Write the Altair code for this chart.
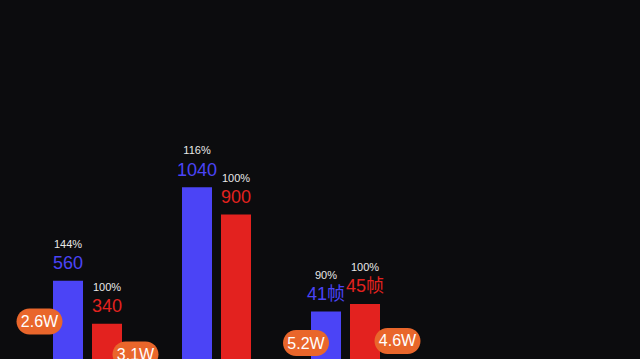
import altair as alt
import pandas as pd

# ---- data ----
groups = ["G1", "G2", "G3"]
series = ["blue", "red"]
blue_values = [560, 1040, 41]
red_values = [340, 900, 45]
blue_labels = ["560", "1040", "41帧"]
red_labels = ["340", "900", "45帧"]
blue_pcts = ["144%", "116%", "90%"]
red_pcts = ["100%", "100%", "100%"]
pill_labels = ["2.6W", "3.1W", "5.2W", "4.6W"]
pill_groups = ["G1", "G1", "G3", "G3"]
pill_series = ["blue", "red", "blue", "red"]

# ---- styles ----
BLUE = "#4B44F6"
RED = "#E3221F"
ORANGE = "#E9662B"
BG = "#0C0C0E"
FONT = "Liberation Sans, Noto Sans CJK SC, sans-serif"
# pixel offsets of each pill relative to (group centre, bar top)
pill_offsets = [(-48, 40.7), (48, 30.8), (-39.5, 31.4), (52, 37)]
PILL = ("M-0.4348,-0.5652L0.4348,-0.5652A0.5652,0.5652,0,0,1,0.4348,0.5652"
        "L-0.4348,0.5652A0.5652,0.5652,0,0,1,-0.4348,-0.5652Z")

rows = []
for i, g in enumerate(groups):
    panel = "fps" if g == "G3" else "main"
    rows.append(dict(group=g, series="blue", value=blue_values[i], label=blue_labels[i], pct=blue_pcts[i], panel=panel))
    rows.append(dict(group=g, series="red", value=red_values[i], label=red_labels[i], pct=red_pcts[i], panel=panel))
df = pd.DataFrame(rows)

x = alt.X("group:N", scale=alt.Scale(domain=groups, paddingInner=0, paddingOuter=0), axis=None)
xo = alt.XOffset("series:N", scale=alt.Scale(domain=series, paddingInner=9 / 39, paddingOuter=30 / 39))
color = alt.Color("series:N", scale=alt.Scale(domain=series, range=[BLUE, RED]), legend=None)


def make_panel(panel, domain):
    d = df[df.panel == panel]
    y = alt.Y("value:Q", scale=alt.Scale(domain=domain, nice=False, zero=True), axis=None)
    base = alt.Chart(d).encode(x=x, xOffset=xo, y=y)
    bars = base.mark_bar().encode(color=color)
    vals = base.mark_text(baseline="alphabetic", dy=-11.5, fontSize=18, font=FONT).encode(
        text="label:N", color=color)
    pcts = base.mark_text(baseline="alphabetic", dy=-33, fontSize=11, font=FONT, color="#E8E8E8").encode(
        text="pct:N")
    layers = [bars, vals, pcts]
    for lab, g, s, (dx, dy) in zip(pill_labels, pill_groups, pill_series, pill_offsets):
        sel = d[(d.group == g) & (d.series == s)]
        if sel.empty:
            continue
        pdf = pd.DataFrame({"group": [g], "value": [sel.value.iloc[0]], "pill": [lab]})
        shape = alt.Chart(pdf).mark_point(
            shape=PILL, size=2116, filled=True, color=ORANGE, opacity=1, strokeWidth=0,
            xOffset=dx, yOffset=dy).encode(x=x, y=y)
        txt = alt.Chart(pdf).mark_text(
            fontSize=16, font=FONT, color="white", baseline="middle", align="center",
            xOffset=dx, yOffset=dy + 0.5).encode(x=x, y=y, text="pill:N")
        layers += [shape, txt]
    return alt.layer(*layers)


main = make_panel("main", [0, 2000])
fps = make_panel("fps", [0, 204])

chart = alt.layer(main, fps).resolve_scale(y="independent").properties(
    width=387, height=390, background=BG,
    padding={"left": 23, "right": 230, "top": 0, "bottom": 0},
    autosize=alt.AutoSizeParams(type="none"),
).configure_view(stroke=None)

chart.save("out.html", embed_options={"renderer": "svg", "actions": False})
